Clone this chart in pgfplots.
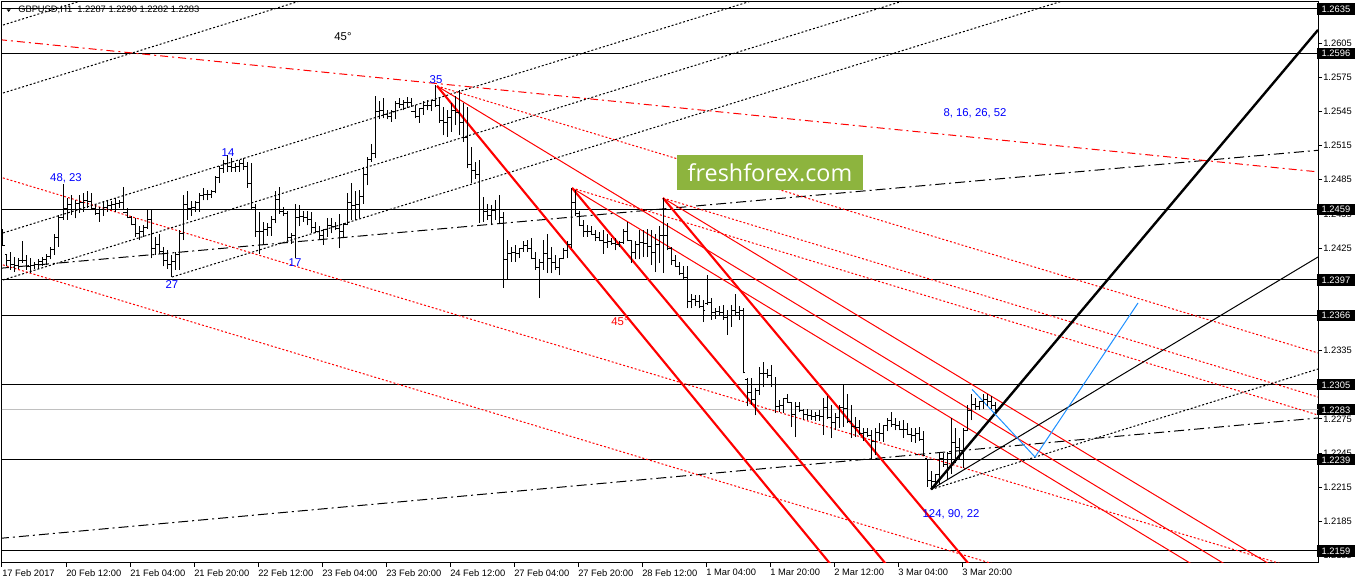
\documentclass[border=0pt]{standalone}
\usepackage{fontspec}
\setmainfont{Liberation Sans}
\newfontfamily\logofont{Open Sans}
\usepackage{pgfplots}
\usepackage{pgfplotstable}
\pgfplotsset{compat=1.18}

\definecolor{mtred}{RGB}{255,0,0}
\definecolor{mtblue}{RGB}{0,0,255}
\definecolor{projblue}{RGB}{30,144,255}
\definecolor{levelgray}{RGB}{192,192,192}
\definecolor{logogreen}{RGB}{141,180,62}

\tikzset{
  mtdot/.style={dash pattern=on 1.5pt off 1.5pt},
  mtdashdot/.style={dash pattern=on 6pt off 3pt on 1.5pt off 3pt},
  mtlongdash/.style={dash pattern=on 7.5pt off 3pt on 1.5pt off 3pt},
}
% price tag on the right scale
\newcommand\lvl[1]{{\setlength{\fboxsep}{0pt}\colorbox{black}{\rule[-1.7pt]{0pt}{8.4pt}\hspace{3.3pt}\textcolor{white}{#1}\hspace{3.3pt}}}}

% GBPUSD H1 bars: index, open, high, low, close
\pgfplotstableread{
i o h l c
0 1.2435 1.2442 1.2427 1.2427
1 1.2419 1.2419 1.2409 1.2414
2 1.2414 1.2422 1.2406 1.2411
3 1.2411 1.2417 1.2404 1.2410
4 1.2410 1.2416 1.2407 1.2414
5 1.2414 1.2431 1.2412 1.2414
6 1.2414 1.2419 1.2406 1.2409
7 1.2409 1.2416 1.2403 1.2410
8 1.2410 1.2413 1.2407 1.2411
9 1.2411 1.2415 1.2407 1.2413
10 1.2413 1.2417 1.2409 1.2415
11 1.2415 1.2420 1.2410 1.2418
12 1.2418 1.2426 1.2415 1.2424
13 1.2424 1.2437 1.2419 1.2434
14 1.2434 1.2454 1.2426 1.2452
15 1.2452 1.2481 1.2450 1.2460
16 1.2460 1.2469 1.2450 1.2463
17 1.2463 1.2472 1.2454 1.2459
18 1.2459 1.2467 1.2451 1.2464
19 1.2464 1.2472 1.2456 1.2465
20 1.2465 1.2473 1.2457 1.2467
21 1.2467 1.2475 1.2460 1.2466
22 1.2466 1.2473 1.2459 1.2460
23 1.2460 1.2464 1.2454 1.2455
24 1.2455 1.2461 1.2448 1.2459
25 1.2459 1.2466 1.2453 1.2461
26 1.2461 1.2466 1.2457 1.2462
27 1.2462 1.2466 1.2459 1.2463
28 1.2463 1.2469 1.2457 1.2464
29 1.2464 1.2467 1.2460 1.2465
30 1.2465 1.2479 1.2459 1.2456
31 1.2456 1.2460 1.2451 1.2452
32 1.2452 1.2453 1.2445 1.2446
33 1.2446 1.2451 1.2435 1.2438
34 1.2438 1.2444 1.2432 1.2440
35 1.2440 1.2445 1.2435 1.2443
36 1.2443 1.2459 1.2442 1.2450
37 1.2450 1.2459 1.2416 1.2425
38 1.2425 1.2435 1.2419 1.2428
39 1.2428 1.2437 1.2420 1.2422
40 1.2422 1.2426 1.2409 1.2414
41 1.2414 1.2423 1.2407 1.2411
42 1.2411 1.2419 1.2400 1.2413
43 1.2413 1.2422 1.2406 1.2419
44 1.2419 1.2441 1.2406 1.2438
45 1.2438 1.2472 1.2432 1.2463
46 1.2463 1.2475 1.2450 1.2460
47 1.2460 1.2466 1.2453 1.2461
48 1.2461 1.2466 1.2457 1.2465
49 1.2465 1.2473 1.2457 1.2471
50 1.2471 1.2478 1.2467 1.2472
51 1.2472 1.2476 1.2467 1.2472
52 1.2472 1.2476 1.2469 1.2475
53 1.2475 1.2488 1.2473 1.2487
54 1.2487 1.2497 1.2482 1.2495
55 1.2495 1.2502 1.2491 1.2499
56 1.2499 1.2507 1.2492 1.2497
57 1.2497 1.2504 1.2492 1.2496
58 1.2496 1.2500 1.2492 1.2497
59 1.2497 1.2502 1.2492 1.2499
60 1.2499 1.2504 1.2494 1.2497
61 1.2497 1.2501 1.2478 1.2482
62 1.2482 1.2500 1.2459 1.2461
63 1.2461 1.2464 1.2435 1.2440
64 1.2440 1.2457 1.2420 1.2440
65 1.2440 1.2448 1.2429 1.2441
66 1.2441 1.2447 1.2436 1.2443
67 1.2443 1.2453 1.2436 1.2450
68 1.2450 1.2475 1.2447 1.2468
69 1.2468 1.2479 1.2455 1.2457
70 1.2457 1.2461 1.2453 1.2455
71 1.2455 1.2458 1.2431 1.2434
72 1.2434 1.2438 1.2429 1.2436
73 1.2436 1.2464 1.2416 1.2452
74 1.2452 1.2463 1.2444 1.2453
75 1.2453 1.2458 1.2448 1.2452
76 1.2452 1.2458 1.2445 1.2450
77 1.2450 1.2457 1.2438 1.2443
78 1.2443 1.2448 1.2438 1.2440
79 1.2440 1.2444 1.2432 1.2436
80 1.2436 1.2442 1.2428 1.2441
81 1.2441 1.2451 1.2435 1.2445
82 1.2445 1.2451 1.2438 1.2444
83 1.2444 1.2448 1.2441 1.2442
84 1.2442 1.2455 1.2425 1.2440
85 1.2440 1.2447 1.2435 1.2446
86 1.2446 1.2473 1.2445 1.2465
87 1.2465 1.2482 1.2450 1.2462
88 1.2462 1.2475 1.2450 1.2463
89 1.2463 1.2476 1.2451 1.2470
90 1.2470 1.2496 1.2464 1.2490
91 1.2490 1.2505 1.2480 1.2503
92 1.2503 1.2516 1.2501 1.2508
93 1.2508 1.2559 1.2504 1.2545
94 1.2545 1.2554 1.2538 1.2546
95 1.2546 1.2557 1.2539 1.2542
96 1.2542 1.2546 1.2538 1.2541
97 1.2541 1.2546 1.2536 1.2545
98 1.2545 1.2554 1.2538 1.2552
99 1.2552 1.2557 1.2548 1.2551
100 1.2551 1.2555 1.2546 1.2553
101 1.2553 1.2558 1.2548 1.2553
102 1.2553 1.2557 1.2549 1.2545
103 1.2545 1.2551 1.2539 1.2541
104 1.2541 1.2548 1.2535 1.2548
105 1.2548 1.2554 1.2542 1.2550
106 1.2550 1.2555 1.2546 1.2550
107 1.2550 1.2555 1.2545 1.2555
108 1.2555 1.2568 1.2549 1.2550
109 1.2550 1.2558 1.2535 1.2537
110 1.2537 1.2549 1.2524 1.2535
111 1.2535 1.2546 1.2523 1.2540
112 1.2540 1.2552 1.2527 1.2546
113 1.2546 1.2559 1.2533 1.2544
114 1.2544 1.2564 1.2524 1.2535
115 1.2535 1.2552 1.2518 1.2522
116 1.2522 1.2549 1.2495 1.2498
117 1.2498 1.2514 1.2482 1.2493
118 1.2493 1.2501 1.2486 1.2490
119 1.2490 1.2502 1.2447 1.2459
120 1.2459 1.2470 1.2448 1.2457
121 1.2457 1.2464 1.2450 1.2454
122 1.2454 1.2463 1.2445 1.2458
123 1.2458 1.2467 1.2450 1.2459
124 1.2459 1.2472 1.2447 1.2452
125 1.2452 1.2457 1.2390 1.2415
126 1.2415 1.2432 1.2397 1.2420
127 1.2420 1.2426 1.2413 1.2421
128 1.2421 1.2428 1.2413 1.2420
129 1.2420 1.2425 1.2416 1.2425
130 1.2425 1.2431 1.2422 1.2427
131 1.2427 1.2432 1.2422 1.2425
132 1.2425 1.2434 1.2415 1.2416
133 1.2416 1.2422 1.2406 1.2408
134 1.2408 1.2415 1.2381 1.2412
135 1.2412 1.2432 1.2406 1.2420
136 1.2420 1.2437 1.2403 1.2416
137 1.2416 1.2426 1.2403 1.2412
138 1.2412 1.2419 1.2406 1.2408
139 1.2408 1.2416 1.2401 1.2416
140 1.2416 1.2425 1.2415 1.2423
141 1.2423 1.2431 1.2416 1.2428
142 1.2428 1.2478 1.2425 1.2465
143 1.2465 1.2476 1.2453 1.2455
144 1.2455 1.2458 1.2444 1.2445
145 1.2445 1.2450 1.2435 1.2440
146 1.2440 1.2445 1.2435 1.2440
147 1.2440 1.2444 1.2437 1.2437
148 1.2437 1.2441 1.2431 1.2434
149 1.2434 1.2439 1.2431 1.2432
150 1.2432 1.2441 1.2420 1.2430
151 1.2430 1.2437 1.2425 1.2431
152 1.2431 1.2434 1.2428 1.2429
153 1.2429 1.2434 1.2423 1.2428
154 1.2428 1.2431 1.2426 1.2430
155 1.2430 1.2442 1.2429 1.2440
156 1.2440 1.2448 1.2431 1.2432
157 1.2432 1.2432 1.2412 1.2421
158 1.2421 1.2431 1.2415 1.2428
159 1.2428 1.2441 1.2415 1.2430
160 1.2430 1.2441 1.2417 1.2429
161 1.2429 1.2442 1.2417 1.2426
162 1.2426 1.2441 1.2410 1.2421
163 1.2421 1.2437 1.2404 1.2428
164 1.2428 1.2444 1.2412 1.2436
165 1.2436 1.2469 1.2403 1.2436
166 1.2436 1.2447 1.2423 1.2425
167 1.2425 1.2426 1.2410 1.2414
168 1.2414 1.2419 1.2409 1.2409
169 1.2409 1.2413 1.2401 1.2403
170 1.2403 1.2409 1.2397 1.2399
171 1.2399 1.2409 1.2372 1.2378
172 1.2378 1.2385 1.2372 1.2380
173 1.2380 1.2384 1.2374 1.2378
174 1.2378 1.2384 1.2372 1.2374
175 1.2374 1.2379 1.2360 1.2370
176 1.2376 1.2401 1.2375 1.2377
177 1.2377 1.2381 1.2362 1.2368
178 1.2368 1.2372 1.2363 1.2369
179 1.2369 1.2374 1.2365 1.2368
180 1.2368 1.2375 1.2362 1.2364
181 1.2364 1.2371 1.2349 1.2366
182 1.2366 1.2375 1.2356 1.2370
183 1.2370 1.2385 1.2365 1.2368
184 1.2368 1.2374 1.2362 1.2370
185 1.2370 1.2372 1.2315 1.2316
186 1.2310 1.2311 1.2286 1.2298
187 1.2298 1.2311 1.2287 1.2292
188 1.2292 1.2302 1.2278 1.2300
189 1.2300 1.2321 1.2296 1.2315
190 1.2315 1.2325 1.2303 1.2315
191 1.2315 1.2319 1.2311 1.2313
192 1.2313 1.2322 1.2303 1.2305
193 1.2305 1.2312 1.2280 1.2286
194 1.2286 1.2292 1.2281 1.2287
195 1.2287 1.2293 1.2280 1.2293
196 1.2293 1.2297 1.2289 1.2289
197 1.2289 1.2290 1.2268 1.2279
198 1.2279 1.2290 1.2259 1.2286
199 1.2286 1.2290 1.2281 1.2282
200 1.2282 1.2284 1.2274 1.2279
201 1.2279 1.2284 1.2274 1.2278
202 1.2278 1.2283 1.2274 1.2277
203 1.2277 1.2281 1.2273 1.2278
204 1.2278 1.2283 1.2273 1.2277
205 1.2277 1.2293 1.2261 1.2285
206 1.2285 1.2295 1.2275 1.2276
207 1.2276 1.2287 1.2258 1.2272
208 1.2272 1.2280 1.2265 1.2276
209 1.2276 1.2287 1.2267 1.2285
210 1.2285 1.2305 1.2268 1.2284
211 1.2284 1.2297 1.2271 1.2273
212 1.2273 1.2287 1.2258 1.2268
213 1.2268 1.2277 1.2259 1.2267
214 1.2267 1.2274 1.2261 1.2262
215 1.2262 1.2267 1.2256 1.2263
216 1.2263 1.2267 1.2259 1.2260
217 1.2260 1.2265 1.2240 1.2255
218 1.2255 1.2267 1.2243 1.2263
219 1.2263 1.2271 1.2256 1.2262
220 1.2262 1.2270 1.2255 1.2269
221 1.2269 1.2276 1.2264 1.2274
222 1.2274 1.2281 1.2268 1.2270
223 1.2270 1.2276 1.2265 1.2269
224 1.2269 1.2273 1.2265 1.2266
225 1.2266 1.2274 1.2258 1.2266
226 1.2266 1.2271 1.2261 1.2261
227 1.2261 1.2267 1.2255 1.2260
228 1.2260 1.2267 1.2254 1.2262
229 1.2262 1.2268 1.2256 1.2257
230 1.2257 1.2264 1.2242 1.2243
231 1.2240 1.2240 1.2215 1.2221
232 1.2221 1.2229 1.2213 1.2220
233 1.2220 1.2227 1.2215 1.2226
234 1.2226 1.2245 1.2218 1.2240
235 1.2240 1.2245 1.2233 1.2235
236 1.2235 1.2246 1.2221 1.2245
237 1.2245 1.2276 1.2227 1.2254
238 1.2254 1.2267 1.2236 1.2250
239 1.2250 1.2258 1.2240 1.2245
240 1.2245 1.2267 1.2232 1.2265
241 1.2265 1.2287 1.2264 1.2282
242 1.2282 1.2297 1.2274 1.2288
243 1.2288 1.2293 1.2283 1.2286
244 1.2286 1.2290 1.2283 1.2290
245 1.2290 1.2297 1.2284 1.2292
246 1.2292 1.2297 1.2286 1.2290
247 1.2290 1.2295 1.2284 1.2287
248 1.2287 1.2290 1.2282 1.2283
}\bars

\begin{document}
\begin{tikzpicture}
\fill[white] (-1.5pt,-15.75pt) rectangle (1017pt,422.25pt);
\begin{axis}[
  name=ax,
  scale only axis, width=987pt, height=420.75pt,
  xmin=-0.25, xmax=328.75,
  ymin=1.214844, ymax=1.264115,
  axis line style={line width=0.75pt},
  every tick/.style={black, line width=0.75pt},
  major tick length=3pt,
  tick align=outside,
  xtick pos=bottom, ytick pos=right, yticklabel pos=right,
  tick label style={font=\fontsize{7}{8}\selectfont},
  /pgf/number format/assume math mode=true,
  xtick={-0.25,15.75,...,239.75},
  xticklabels={17 Feb 2017,20 Feb 12:00,21 Feb 04:00,21 Feb 20:00,22 Feb 12:00,23 Feb 04:00,23 Feb 20:00,24 Feb 12:00,27 Feb 04:00,27 Feb 20:00,28 Feb 12:00,1 Mar 04:00,1 Mar 20:00,2 Mar 12:00,3 Mar 04:00,3 Mar 20:00},
  xticklabel style={anchor=north west, inner sep=0pt, xshift=0pt, yshift=-1.5pt},
  ytick={1.2155,1.2185,1.2215,1.2245,1.2275,1.2305,1.2335,1.2365,1.2395,1.2425,1.2455,1.2485,1.2515,1.2545,1.2575,1.2605},
  yticklabel style={anchor=west, inner sep=0pt, xshift=0.75pt,
    /pgf/number format/.cd, fixed, fixed zerofill, precision=4},
  extra y ticks={1.2635,1.2596,1.2459,1.2397,1.2366,1.2305,1.2283,1.2239,1.2159},
  extra y tick labels={\lvl{1.2635},\lvl{1.2596},\lvl{1.2459},\lvl{1.2397},\lvl{1.2366},\lvl{1.2305},\lvl{1.2283},\lvl{1.2239},\lvl{1.2159}},
  extra y tick style={major tick length=0pt, tick label style={xshift=-1.5pt}},
  clip=true,
]
% price levels
\addplot[black, line width=0.75pt] coordinates {(-1,1.2635) (330,1.2635)};
\addplot[black, line width=0.75pt] coordinates {(-1,1.2596) (330,1.2596)};
\addplot[black, line width=0.75pt] coordinates {(-1,1.2459) (330,1.2459)};
\addplot[black, line width=0.75pt] coordinates {(-1,1.2397) (330,1.2397)};
\addplot[black, line width=0.75pt] coordinates {(-1,1.2366) (330,1.2366)};
\addplot[black, line width=0.75pt] coordinates {(-1,1.2305) (330,1.2305)};
\addplot[levelgray, line width=0.75pt] coordinates {(-1,1.2283) (330,1.2283)};
\addplot[black, line width=0.75pt] coordinates {(-1,1.2239) (330,1.2239)};
\addplot[black, line width=0.75pt] coordinates {(-1,1.2159) (330,1.2159)};

% rising black dotted channel
\addplot[black, line width=0.75pt, mtdot] coordinates {(0,1.26209) (60,1.26862)};
\addplot[black, line width=0.75pt, mtdot] coordinates {(0,1.25612) (100,1.26701)};
\addplot[black, line width=0.75pt, mtdot] coordinates {(0,1.24383) (200,1.26561)};
\addplot[black, line width=0.75pt, mtdot] coordinates {(0,1.23970) (250,1.26693)};
\addplot[black, line width=0.75pt, mtdot] coordinates {(42.25,1.23996) (290,1.26694)};
\addplot[black, line width=0.75pt, mtlongdash] coordinates {(-1,1.24072) (330,1.25113)};
\addplot[black, line width=0.75pt, mtlongdash] coordinates {(-1,1.21700) (330,1.22762)};

% red lines
\addplot[mtred, line width=0.75pt, mtdashdot] coordinates {(-1,1.26081) (330,1.24915)};
\addplot[mtred, line width=0.75pt, mtdot] coordinates {(108.5,1.25674) (328.75,1.23329)};
\addplot[mtred, line width=0.75pt, mtdot] coordinates {(165,1.24690) (328.75,1.22942)};
\addplot[mtred, line width=0.75pt, mtdot] coordinates {(142.25,1.24778) (328.75,1.22784)};
\addplot[mtred, line width=0.75pt, mtdot] coordinates {(-1,1.24877) (328.75,1.21379)};
\addplot[mtred, line width=0.75pt, mtdot] coordinates {(-1,1.24113) (328.75,1.20615)};
\addplot[mtred, line width=0.75pt] coordinates {(108.5,1.25674) (320.25,1.21159)};
\addplot[mtred, line width=0.75pt] coordinates {(142.25,1.24778) (312,1.21159)};
\addplot[mtred, line width=0.75pt] coordinates {(165,1.24690) (331.5,1.21159)};
\addplot[mtred, line width=1.6pt] coordinates {(108.5,1.25674) (214.25,1.21159)};
\addplot[mtred, line width=1.6pt] coordinates {(142.25,1.24778) (228.25,1.21159)};
\addplot[mtred, line width=1.6pt] coordinates {(165,1.24690) (249,1.21159)};

% fan from the 3 Mar low
\addplot[black, line width=0.75pt, mtdot] coordinates {(232,1.2213) (328.75,1.23188)};
\addplot[black, line width=0.75pt] coordinates {(232,1.2213) (328.75,1.24172)};
\addplot[black, line width=1.8pt] coordinates {(232,1.2213) (328.75,1.26166)};
\addplot[projblue, line width=0.75pt] coordinates {(242.25,1.23010) (258,1.22415) (283.75,1.23768)};

% OHLC bars
\addplot[black, line width=0.75pt, no markers, quiver={u=0, v=\thisrow{h}-\thisrow{l}}]
  table[x=i, y=l] {\bars};
\addplot[black, line width=0.75pt, no markers, quiver={u=0.45, v=0}]
  table[x expr=\thisrow{i}-0.45, y=o] {\bars};
\addplot[black, line width=0.75pt, no markers, quiver={u=0.45, v=0}]
  table[x=i, y=c] {\bars};

% labels
\begin{scope}[every node/.style={inner sep=0pt, font=\fontsize{8.5}{10}\selectfont}]
\node[mtblue] at (axis cs:15.75,1.24866) {48, 23};
\node[mtblue] at (axis cs:56.25,1.25085) {14};
\node[mtblue] at (axis cs:42.25,1.23926) {27};
\node[mtblue] at (axis cs:73,1.24119) {17};
\node[mtblue] at (axis cs:108.25,1.25726) {35};
\node[mtblue] at (axis cs:243,1.25437) {8, 16, 26, 52};
\node[mtblue] at (axis cs:237,1.21911) {124, 90, 22};
\node[black] at (axis cs:85,1.26104) {45°};
\node[mtred] at (axis cs:154.25,1.23601) {45°};
\end{scope}

\fill[logogreen] (axis cs:168.5,1.25068) rectangle (axis cs:215,1.24760);
\node[text=white, inner sep=0pt, font=\logofont\fontsize{17.5}{20}\selectfont]
  at (axis cs:191.75,1.24914) {freshforex.com};
\end{axis}
\fill[black] ([shift={(3.5pt,-5.5pt)}]ax.north west) -- ++(3pt,0) -- ++(-1.5pt,-2pt) -- cycle;
\node[anchor=west, inner sep=0pt, font=\fontsize{7}{8}\selectfont]
  at ([shift={(12pt,-6pt)}]ax.north west) {GBPUSD,H1\ \ 1.2287 1.2290 1.2282 1.2283};
\pgfresetboundingbox
\path[use as bounding box] (-1.5pt,-15.75pt) rectangle (1017pt,422.25pt);
\end{tikzpicture}
\end{document}
